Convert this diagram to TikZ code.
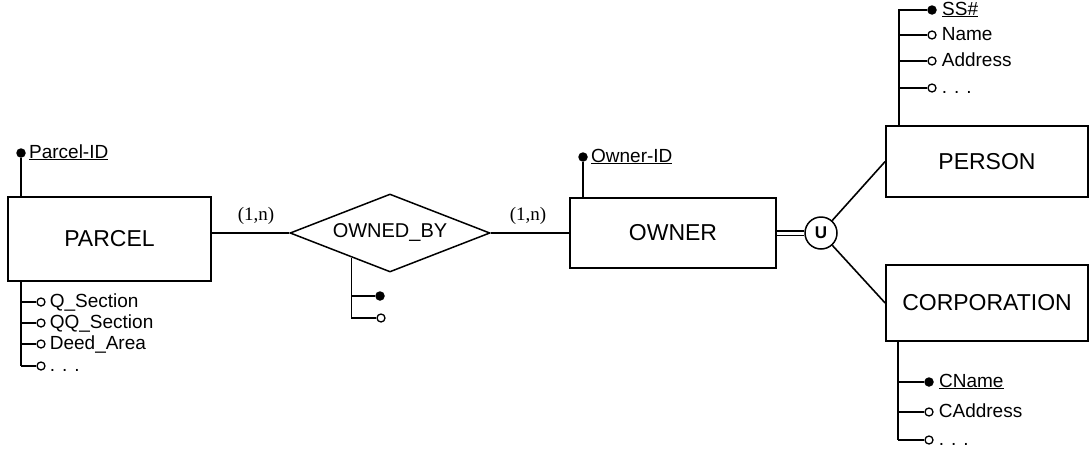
\documentclass[tikz,border=0pt]{standalone}
\usepackage{fontspec}
\setmainfont{Liberation Sans}
\newfontfamily\cardfont{Liberation Serif}
\usetikzlibrary{positioning, shapes.geometric, calc}

\tikzset{
  entity/.style={draw, line width=1.7pt, minimum width=203pt, minimum height=72pt,
                 inner sep=0pt, font=\fontsize{23}{25}\selectfont},
  relation/.style={draw, diamond, line width=1.5pt, inner sep=0pt, shape aspect=2.56,
                   minimum width=200pt, minimum height=78pt, font=\fontsize{20}{22}\selectfont},
  keydot/.style={circle, fill, inner sep=0pt, minimum size=9.5pt},
  attdot/.style={circle, draw, line width=1.3pt, fill=white, inner sep=0pt, minimum size=8pt},
  attlabel/.style={anchor=west, inner sep=0pt, text height=14pt, text depth=4pt,
                   font=\fontsize{19}{21}\selectfont},
  card/.style={font=\cardfont\fontsize{19}{21}\selectfont},
  link/.style={line width=1.6pt},
  attline/.style={line width=1.4pt}
}

\begin{document}
\begin{tikzpicture}[x=1pt, y=-1pt]
  \useasboundingbox (0,0) rectangle (1092,450);

  % entities and the relationship
  \node[entity, minimum height=84pt] (parcel) at (109.5,239) {PARCEL};
  \node[relation] (owned) at (390,233) {OWNED\_BY};
  \node[entity, minimum width=206pt, minimum height=70pt] (owner) at (673,233) {OWNER};
  \node[entity, minimum width=202pt, minimum height=71pt] (person) at (987,161.5) {PERSON};
  \node[entity, minimum width=202pt, minimum height=76pt] (corp) at (987,303) {CORPORATION};
  \node[circle, draw, line width=1.5pt, minimum size=32pt, inner sep=0pt,
        font=\bfseries\fontsize{17}{19}\selectfont] (union) at (821,233) {U};

  % connectors
  \draw[link] (parcel.east |- owned.west) -- (owned.west);
  \draw[link] (owned.east) -- (owner.west);
  \node[card] (card1) at (256,216) {(1,n)};
  \node[card] (card2) at (528,216) {(1,n)};
  \draw[double, double distance=3pt, line width=1.2pt] (owner.east) -- (union.west);
  \draw[link] (union) -- (person.west);
  \draw[link] (union) -- (corp.west);

  % PARCEL attributes
  \node[keydot] (pkey) at (21,153) {};
  \node[attlabel, right=3pt of pkey] (pkeytxt) {\underline{Parcel-ID}};
  \draw[attline] (pkey) -- (pkey |- parcel.north);
  \coordinate (pbar) at (21,0);
  \foreach \y/\t [count=\i] in {302/Q\_Section, 323/QQ\_Section, 344/Deed\_Area, 366/. . .} {
    \node[attdot] (patt\i) at (41,\y) {};
    \node[attlabel, right=4pt of patt\i] (patttxt\i) {\t};
    \draw[attline] (pbar |- patt\i) -- (patt\i);
  }
  \draw[attline] (pbar |- parcel.south) -- (pbar |- patt4);

  % OWNED_BY attributes
  \coordinate (rbase) at ($(owned.west)!0.62!(owned.south)$);
  \node[keydot] (rkey) at (380,296) {};
  \node[attdot] (ratt) at (381,318) {};
  \draw[attline] (rbase) -- (rbase |- ratt) -- (ratt);
  \draw[attline] (rbase |- rkey) -- (rkey);

  % OWNER attributes
  \node[keydot] (okey) at (583,157) {};
  \node[attlabel, right=3pt of okey] (okeytxt) {\underline{Owner-ID}};
  \draw[attline] (okey) -- (okey |- owner.north);

  % PERSON attributes
  \coordinate (sbar) at (899,0);
  \node[keydot] (skey) at (932,10) {};
  \node[attlabel, right=5pt of skey] (skeytxt) {\underline{SS\#}};
  \foreach \y/\t [count=\i] in {35/Name, 61/Address, 88/. . .} {
    \node[attdot] (satt\i) at (932,\y) {};
    \node[attlabel, right=5pt of satt\i] (satttxt\i) {\t};
    \draw[attline] (sbar |- satt\i) -- (satt\i);
  }
  \draw[attline] (sbar |- person.north) -- (sbar |- skey) -- (skey);

  % CORPORATION attributes
  \coordinate (cbar) at (898,0);
  \node[keydot] (ckey) at (929,382) {};
  \node[attlabel, right=5pt of ckey] (ckeytxt) {\underline{CName}};
  \foreach \y/\t [count=\i] in {412/CAddress, 440/. . .} {
    \node[attdot] (catt\i) at (929,\y) {};
    \node[attlabel, right=5pt of catt\i] (catttxt\i) {\t};
    \draw[attline] (cbar |- catt\i) -- (catt\i);
  }
  \draw[attline] (cbar |- corp.south) -- (cbar |- catt2);
  \draw[attline] (cbar |- ckey) -- (ckey);
\end{tikzpicture}
\end{document}
